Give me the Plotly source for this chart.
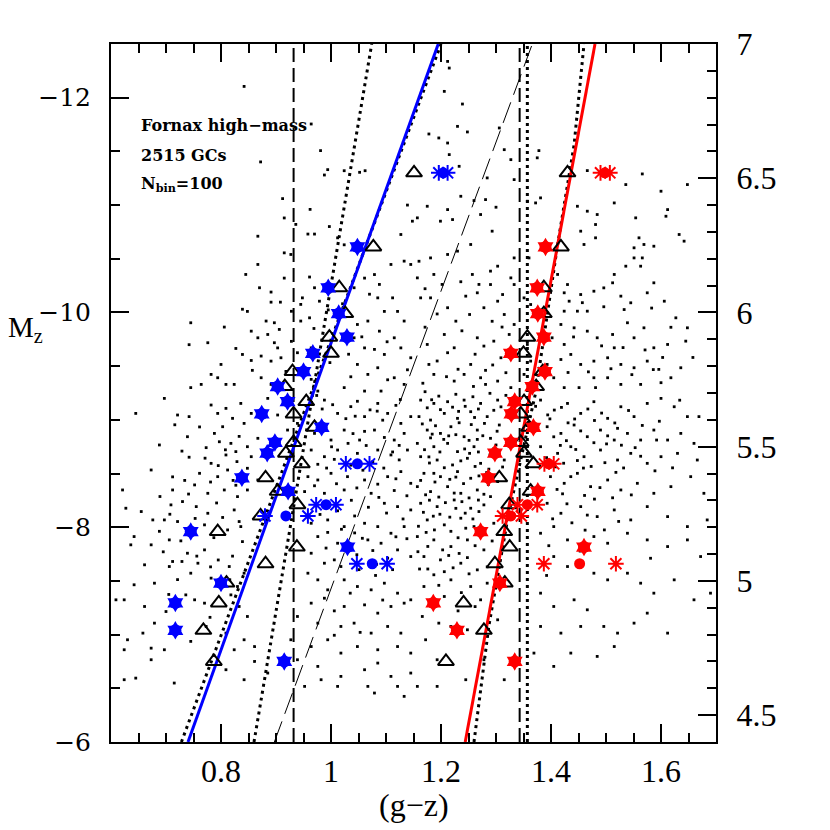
import plotly.graph_objects as go

# ---------------- data ----------------
# individual GCs (g-z, M_z)
gc_points = [
 (0.842,-12.105),(0.964,-11.755),(0.981,-11.507),(0.872,-11.402),(0.994,-11.33),(0.988,-11.28),(1.024,-11.32),
 (1.052,-11.305),(1.062,-11.32),(0.912,-11.06),(0.962,-10.96),(0.915,-10.88),(0.936,-10.82),(0.958,-10.73),
 (0.970,-10.73),(0.997,-10.80),(0.867,-10.71),(0.915,-10.555),(0.927,-10.54),(1.012,-10.695),(1.024,-10.63),
 (0.867,-10.447),(0.845,-10.354),(0.870,-10.23),(0.891,-10.19),(0.915,-10.32),(0.961,-10.33),(0.970,-10.23),
 (0.891,-10.096),(0.908,-10.096),(0.948,-10.136),(0.945,-10.075),(0.979,-10.105),(0.839,-10.03),(0.848,-10.01),
 (0.806,-9.864),(0.745,-9.904),(0.882,-9.92),(0.897,-9.904),(0.906,-9.842),(0.945,-9.92),(0.961,-9.95),
 (0.855,-9.826),(0.867,-9.764),(0.885,-9.795),(0.897,-9.718),(0.903,-9.67),(0.742,-9.70),(0.776,-9.718),
 (0.827,-9.665),(0.839,-9.609),(0.855,-9.553),(0.873,-9.594),(0.891,-9.547),(0.909,-9.578),(0.939,-9.625),
 (0.964,-9.67),(0.800,-9.516),(0.782,-9.423),(0.794,-9.392),(0.809,-9.33),(0.745,-9.30),(0.764,-9.33),
 (0.824,-9.33),(0.873,-9.392),(0.891,-9.33),(0.964,-9.377),(0.976,-9.268),
 (1.042,-10.23),(1.061,-10.32),(1.070,-10.17),(1.079,-10.353),(1.085,-10.136),(1.112,-10.136),(1.097,-10.01),
 (1.121,-10.01),(1.133,-9.92),(1.067,-9.92),(1.048,-9.888),(1.088,-9.826),(1.115,-9.764),(1.042,-9.764),
 (1.061,-9.67),(1.079,-9.656),(1.097,-9.609),(1.127,-9.67),(1.145,-9.578),(1.048,-9.516),(1.067,-9.423),
 (1.085,-9.485),(1.115,-9.392),(1.133,-9.33),(1.061,-9.268),(1.024,-9.30),(1.091,-9.268),(1.133,-10.478),
 (1.145,-10.447),(1.109,-10.447),(1.139,-11.0),(1.127,-10.726),(1.148,-10.85),
 (1.212,-12.338),(1.215,-12.276),(1.206,-12.059),(1.239,-11.941),(1.230,-11.733),(1.248,-11.681),(1.178,-11.662),
 (1.196,-11.625),(1.212,-11.578),(1.215,-11.47),(1.306,-11.718),(1.315,-11.516),(1.327,-11.423),(1.333,-11.237),
 (1.233,-11.361),(1.284,-11.253),(1.378,-11.507),(1.375,-11.44),(1.381,-11.067),(1.372,-11.02),(1.357,-11.036),
 (1.175,-10.989),(1.157,-10.881),(1.212,-10.958),(1.236,-11.082),(1.260,-11.042),(1.281,-11.051),(1.300,-10.98),
 (1.272,-10.912),(1.199,-10.85),(1.221,-10.865),(1.293,-10.757),(1.254,-10.633),(1.230,-10.571),(1.212,-10.54),
 (1.187,-10.354),(1.181,-10.508),(1.257,-10.354),(1.290,-10.385),(1.303,-10.431),(1.333,-10.508),(1.327,-10.322),
 (1.333,-10.26),(1.160,-10.477),(1.157,-10.322),(1.163,-10.136),(1.181,-10.136),(1.212,-10.044),(1.227,-9.919),
 (1.245,-10.152),(1.266,-10.183),(1.278,-10.044),(1.303,-10.105),(1.312,-10.167),(1.290,-10.26),(1.315,-9.981),
 (1.333,-9.888),(1.324,-9.795),(1.266,-9.764),(1.278,-9.687),(1.296,-9.733),(1.224,-9.671),(1.212,-9.625),
 (1.175,-9.702),(1.178,-9.516),(1.187,-9.423),(1.224,-9.361),(1.242,-9.423),(1.272,-9.392),(1.303,-9.361),
 (1.281,-9.33),(1.318,-9.439),(1.327,-9.30),(1.309,-9.578),(1.254,-9.516),(1.206,-9.795),
 (1.466,-11.321),(1.536,-11.191),(1.566,-11.29),(1.600,-11.129),(1.648,-11.191),(1.448,-10.989),(1.466,-10.943),
 (1.484,-10.912),(1.515,-11.02),(1.481,-10.819),(1.481,-10.695),(1.454,-10.757),(1.460,-10.633),(1.554,-10.881),
 (1.612,-10.958),(1.609,-10.896),(1.633,-10.726),(1.642,-10.664),(1.560,-10.695),(1.569,-10.633),(1.587,-10.617),
 (1.551,-10.602),(1.566,-10.508),(1.551,-10.508),(1.536,-10.431),(1.563,-10.431),(1.515,-10.354),(1.512,-10.276),
 (1.496,-10.229),(1.478,-10.198),(1.454,-10.167),(1.424,-10.183),(1.433,-10.105),(1.448,-10.012),(1.466,-10.012),
 (1.412,-10.354),(1.430,-10.26),(1.527,-10.152),(1.545,-10.09),(1.575,-10.183),(1.606,-10.105),(1.627,-9.95),
 (1.587,-10.276),(1.418,-9.888),(1.442,-9.857),(1.466,-9.826),(1.484,-9.764),(1.512,-9.795),(1.539,-9.904),
 (1.551,-9.764),(1.569,-9.857),(1.587,-9.671),(1.612,-9.702),(1.645,-9.733),(1.648,-9.857),(1.424,-9.702),
 (1.436,-9.609),(1.454,-9.516),(1.478,-9.547),(1.503,-9.578),(1.515,-9.671),(1.527,-9.516),(1.551,-9.485),
 (1.575,-9.547),(1.596,-9.47),(1.618,-9.392),(1.636,-9.485),(1.478,-9.392),(1.503,-9.392),(1.527,-9.33),
 (1.563,-9.33),(1.600,-9.346),(1.405,-9.392),(1.424,-9.30),(1.451,-9.30),(1.481,-9.30),(1.424,-10.012),
 (1.402,-9.764),(1.418,-9.562),(1.393,-9.516),(1.357,-9.702),(1.363,-9.547),(1.351,-9.423),(1.360,-10.508),
 (1.363,-10.074),(1.375,-9.981),(1.351,-10.136),
 (0.697,-9.2),(0.645,-9.06),(0.721,-9.045),(0.742,-9.03),(0.782,-9.138),(0.794,-9.06),(0.809,-9.107),
 (0.821,-9.014),(0.836,-9.153),(0.842,-8.967),(0.855,-9.06),(0.803,-8.936),(0.788,-8.874),(0.739,-8.843),
 (0.688,-8.766),(0.818,-8.781),(0.827,-8.704),(0.848,-8.75),(0.867,-8.828),(0.855,-8.657),(0.809,-8.673),
 (0.782,-8.595),(0.761,-8.502),(0.794,-8.471),(0.812,-8.533),(0.848,-8.549),(0.867,-8.44),(0.673,-8.533),
 (0.712,-8.347),(0.752,-8.394),(0.776,-8.316),(0.806,-8.347),(0.830,-8.285),(0.848,-8.347),(0.621,-8.347),
 (0.655,-8.146),(0.627,-8.177),(0.709,-8.208),(0.730,-8.239),(0.755,-8.192),(0.776,-8.13),(0.824,-8.161),
 (0.676,-8.068),(0.697,-8.068),(0.721,-8.053),(0.642,-7.913),(0.636,-7.836),(0.673,-7.836),(0.706,-7.882),
 (0.770,-8.022),(0.812,-7.975),(0.836,-8.006),(0.839,-7.866),(0.770,-7.789),(0.739,-7.758),(0.712,-7.681),
 (0.661,-7.65),(0.706,-7.634),(0.758,-7.665),(0.782,-7.526),(0.745,-7.572),(0.815,-7.634),(0.830,-7.448),
 (0.842,-7.572),(0.642,-7.464),(0.679,-7.479),(0.624,-7.324),(0.609,-7.324),(0.661,-7.262),(0.700,-7.215),
 (0.736,-7.37),(0.752,-7.324),(0.770,-7.293),(0.818,-7.37),(0.833,-7.262),(0.848,-7.169),(0.679,-7.107),
 (0.658,-7.014),(0.630,-6.952),(0.624,-6.859),(0.673,-6.874),(0.697,-6.859),(0.745,-6.937),(0.773,-7.076),
 (0.809,-7.014),(0.824,-6.859),(0.842,-6.952),(0.861,-6.889),(0.673,-6.766),(0.715,-6.549),(0.645,-6.595),
 (0.624,-6.58),(0.809,-6.673),(0.842,-6.58),(0.861,-6.75),(0.885,-6.642),
 (0.885,-9.2),(0.903,-9.045),(0.921,-8.905),(0.939,-8.967),(0.988,-9.184),(1.012,-9.06),(1.036,-9.123),
 (1.061,-9.03),(1.085,-9.153),(1.103,-9.06),(1.127,-8.967),(1.145,-9.03),(0.970,-8.874),(1.000,-8.812),
 (1.024,-8.905),(1.052,-8.812),(1.079,-8.905),(1.115,-8.812),(1.133,-8.874),(0.964,-8.719),(0.988,-8.657),
 (1.012,-8.719),(1.048,-8.688),(1.085,-8.719),(1.109,-8.673),(1.139,-8.719),(0.958,-8.471),(0.976,-8.44),
 (1.000,-8.502),(1.030,-8.471),(1.061,-8.44),(1.103,-8.471),(1.127,-8.518),(1.145,-8.409),(0.952,-8.332),
 (0.988,-8.316),(1.024,-8.347),(1.073,-8.316),(1.097,-8.223),(1.121,-8.192),(1.145,-8.161),(0.964,-8.037),
 (0.994,-8.068),(1.024,-8.006),(1.061,-8.037),(1.085,-8.006),(1.109,-7.944),(1.133,-8.006),(0.976,-7.913),
 (1.012,-7.851),(1.067,-7.882),(1.091,-7.851),(1.121,-7.789),(1.145,-7.727),(0.964,-7.758),(0.988,-7.665),
 (1.006,-7.696),(1.018,-7.634),(0.958,-7.572),(0.976,-7.51),(0.994,-7.417),(1.024,-7.51),(1.048,-7.448),
 (1.073,-7.417),(1.097,-7.479),(1.121,-7.386),(1.133,-7.293),(1.145,-7.324),(0.964,-7.293),(0.988,-7.339),
 (1.024,-7.262),(1.061,-7.277),(1.085,-7.2),(1.109,-7.262),(0.939,-7.169),(0.976,-7.107),(1.018,-7.076),
 (1.042,-7.107),(1.073,-7.014),(1.103,-7.076),(1.127,-7.014),(0.927,-6.952),(0.964,-6.889),(0.994,-6.952),
 (1.018,-6.828),(1.048,-6.889),(1.085,-6.859),(1.121,-6.889),(1.145,-6.828),(0.939,-6.766),(0.976,-6.704),
 (1.018,-6.611),(1.061,-6.673),(1.085,-6.735),(1.109,-6.611),(1.145,-6.642),(0.982,-6.58),(1.012,-6.518),
 (1.067,-6.518),(1.079,-6.456),(1.121,-6.518),(1.133,-6.425),(0.952,-6.518),
 (1.163,-9.184),(1.187,-9.153),(1.212,-9.169),(1.242,-9.184),(1.272,-9.153),(1.303,-9.184),(1.160,-9.03),
 (1.181,-8.998),(1.206,-9.06),(1.230,-9.014),(1.254,-9.076),(1.284,-9.03),(1.306,-8.952),(1.175,-8.905),
 (1.199,-8.874),(1.218,-8.936),(1.242,-8.843),(1.266,-8.905),(1.290,-8.828),(1.157,-8.781),(1.187,-8.75),
 (1.212,-8.781),(1.230,-8.704),(1.260,-8.75),(1.163,-8.657),(1.193,-8.626),(1.221,-8.58),(1.248,-8.642),
 (1.272,-8.595),(1.315,-8.626),(1.169,-8.502),(1.199,-8.471),(1.230,-8.518),(1.254,-8.456),(1.303,-8.425),
 (1.157,-8.378),(1.181,-8.332),(1.212,-8.378),(1.236,-8.316),(1.266,-8.347),(1.290,-8.285),(1.163,-8.223),
 (1.193,-8.192),(1.224,-8.254),(1.254,-8.177),(1.278,-8.208),(1.175,-8.068),(1.206,-8.022),(1.236,-8.084),
 (1.260,-8.006),(1.296,-8.037),(1.157,-7.913),(1.187,-7.882),(1.218,-7.82),(1.248,-7.882),(1.278,-7.789),
 (1.169,-7.727),(1.199,-7.696),(1.236,-7.665),(1.266,-7.603),(1.187,-7.557),(1.218,-7.51),(1.254,-7.448),
 (1.284,-7.479),(1.169,-7.448),(1.206,-7.355),(1.272,-7.324),(1.166,-7.169),(1.196,-7.107),(1.218,-7.076),
 (1.248,-7.045),(1.303,-7.138),(1.172,-6.952),(1.193,-6.766),(1.157,-6.518),(1.193,-6.518),(1.245,-6.58),
 (1.278,-6.766),(1.315,-6.58),
 (1.381,-9.184),(1.406,-9.091),(1.430,-9.153),(1.454,-9.06),(1.478,-9.169),(1.503,-9.014),(1.527,-9.122),
 (1.551,-9.03),(1.575,-9.153),(1.600,-9.2),(1.624,-9.122),(1.648,-9.03),(1.669,-9.03),(1.393,-8.936),
 (1.418,-8.874),(1.442,-8.952),(1.466,-8.843),(1.490,-8.905),(1.515,-8.812),(1.539,-8.874),(1.563,-8.812),
 (1.587,-8.905),(1.612,-8.812),(1.636,-8.874),(1.660,-8.781),(1.381,-8.75),(1.412,-8.688),(1.436,-8.75),
 (1.460,-8.657),(1.490,-8.719),(1.521,-8.626),(1.545,-8.688),(1.575,-8.595),(1.600,-8.657),(1.630,-8.688),
 (1.666,-8.626),(1.399,-8.471),(1.424,-8.409),(1.448,-8.502),(1.472,-8.378),(1.503,-8.44),(1.527,-8.347),
 (1.557,-8.409),(1.587,-8.316),(1.618,-8.378),(1.654,-8.471),(1.678,-8.316),(1.393,-8.223),(1.418,-8.13),
 (1.454,-8.192),(1.484,-8.099),(1.515,-8.161),(1.545,-8.068),(1.575,-8.192),(1.612,-8.099),(1.648,-8.006),
 (1.684,-8.068),(1.381,-7.944),(1.405,-8.006),(1.430,-7.882),(1.478,-7.913),(1.503,-7.851),(1.539,-7.944),
 (1.575,-7.882),(1.612,-7.82),(1.648,-7.882),(1.672,-7.727),(1.405,-7.727),(1.430,-7.634),(1.478,-7.572),
 (1.503,-7.51),(1.539,-7.572),(1.563,-7.479),(1.587,-7.386),(1.624,-7.51),(1.660,-7.324),(1.690,-7.386),
 (1.381,-7.386),(1.405,-7.262),(1.442,-7.324),(1.466,-7.231),(1.496,-7.076),(1.521,-7.014),(1.551,-7.107),
 (1.575,-7.2),(1.612,-7.014),(1.381,-7.076),(1.418,-7.014),(1.454,-7.076),(1.484,-6.797),(1.515,-6.889),
 (1.405,-6.704),(1.436,-6.828),(1.369,-6.828),
 (1.171,-9.262),(1.196,-9.221),(1.227,-9.238),(1.258,-9.215),(1.289,-9.247),(1.318,-9.228),(1.175,-9.112),
 (1.199,-9.095),(1.221,-9.118),(1.244,-9.126),(1.268,-9.101),(1.296,-9.089),(1.166,-8.962),(1.190,-8.945),
 (1.233,-8.973),(1.255,-8.956),(1.279,-8.967),(1.302,-8.894),(1.181,-8.832),(1.205,-8.818),(1.227,-8.862),
 (1.251,-8.809),(1.276,-8.852),(1.300,-8.766),(1.170,-8.722),(1.198,-8.701),(1.243,-8.729),(1.268,-8.701),
 (1.289,-8.672),(1.179,-8.598),(1.206,-8.554),(1.236,-8.618),(1.262,-8.566),(1.287,-8.541),(1.163,-8.436),
 (1.189,-8.421),(1.216,-8.446),(1.241,-8.406),(1.269,-8.478),(1.286,-8.398),(1.172,-8.302),(1.196,-8.281),
 (1.224,-8.318),(1.251,-8.273),(1.278,-8.307),(1.168,-8.139),(1.198,-8.121),(1.227,-8.176),(1.244,-8.131),
 (1.269,-8.146),(1.159,-8.009),(1.188,-7.975),(1.218,-7.962),(1.245,-7.991),(1.278,-7.946),(1.176,-7.821),
 (1.203,-7.789),(1.233,-7.756),(1.262,-7.828),(1.161,-7.611),(1.222,-7.622),(1.251,-7.566),(1.196,-7.459),
 (1.237,-7.391),(1.181,-7.285),(1.231,-7.221),(1.262,-7.261),
 (1.372,-9.126),(1.394,-9.046),(1.419,-9.116),(1.443,-9.008),(1.467,-9.101),(1.492,-9.063),(1.516,-8.971),
 (1.541,-9.087),(1.566,-8.948),(1.405,-8.842),(1.428,-8.806),(1.454,-8.897),(1.478,-8.787),(1.503,-8.851),
 (1.528,-8.764),(1.553,-8.741),(1.392,-8.648),(1.423,-8.596),(1.448,-8.621),(1.473,-8.566),(1.498,-8.601),
 (1.532,-8.552),(1.411,-8.352),(1.436,-8.471),(1.461,-8.296),(1.489,-8.369),(1.512,-8.274),(1.403,-8.078),
 (1.438,-8.041),(1.466,-8.113),(1.497,-7.975),(1.523,-8.054),(1.589,-8.525),(1.621,-8.553),(1.597,-8.987),
 (1.634,-9.183),(1.581,-7.711),(1.453,-7.778),(1.519,-7.654),(1.392,-7.551),
 (0.974,-9.227),(1.003,-9.141),(1.027,-9.011),(1.048,-9.173),(1.071,-9.093),(1.094,-8.997),(1.118,-9.135),
 (0.983,-8.951),(1.040,-8.872),(1.064,-8.761),(1.097,-8.836),(1.124,-8.762),(0.976,-8.586),(1.006,-8.632),
 (1.036,-8.578),(1.076,-8.611),(1.096,-8.551),(1.124,-8.627),(0.970,-8.386),(1.010,-8.405),(1.047,-8.366),
 (1.085,-8.401),(1.115,-8.342),(1.138,-8.293),(0.980,-8.119),(1.012,-8.153),(1.043,-8.105),(1.068,-8.186),
 (1.101,-8.132),(1.131,-8.077),(0.994,-7.952),(1.043,-7.947),(1.076,-7.783),(1.103,-7.712),(1.138,-7.893),
 (1.051,-7.605),(1.081,-7.551),(1.112,-7.605),(1.006,-7.221),(1.035,-7.386),(1.094,-7.322),(1.006,-6.994),
 (1.053,-7.021),
 (0.716,-8.954),(0.761,-8.934),(0.773,-8.741),(0.797,-8.796),(0.833,-8.846),(0.742,-8.652),(0.795,-8.574),
 (0.829,-8.611),(0.734,-8.436),(0.822,-8.436),(0.689,-8.286),(0.741,-8.309),(0.792,-8.226),(0.833,-8.053),
 (0.753,-8.082),(0.688,-7.962),(0.727,-7.873),(0.787,-7.903),(0.695,-7.771),(0.756,-7.731),(0.795,-7.695),
 (0.721,-7.512),(0.816,-7.511),(0.705,-7.374),(0.780,-7.161),
 (1.171,-10.221),(1.202,-10.261),(1.236,-10.286),(1.269,-10.261),(1.193,-9.986),(1.252,-9.981),(1.293,-9.918),
 (1.171,-9.863),(1.238,-9.829),(1.311,-9.864),(1.193,-9.548),(1.231,-9.471),(1.262,-9.611),(1.294,-9.511),
 (1.167,-9.341),(1.259,-9.311),(1.210,-9.402),(1.281,-9.461),
 (1.431,-9.441),(1.468,-9.447),(1.509,-9.476),(1.547,-9.421),(1.586,-9.468),(1.441,-9.772),(1.492,-9.689),
 (1.531,-9.673),(1.571,-9.651),(1.603,-9.581),(1.457,-10.091),(1.496,-10.053),(1.533,-10.027),(1.583,-10.041),
 (1.618,-9.862),(1.658,-9.581),
 (0.928,-10.011),(0.969,-9.851),(0.998,-9.533),(1.032,-9.611),(1.036,-9.401),(1.056,-9.773),(1.102,-9.727),
 (1.103,-9.373),(1.139,-9.466),(0.918,-9.451),(0.955,-9.461),(0.857,-9.461),(0.928,-9.731),(0.995,-10.024),
 (1.021,-10.081),(1.088,-10.261),
 (1.183,-9.187),(1.232,-9.079),(1.261,-9.022),(1.309,-9.121),(1.184,-8.867),(1.214,-8.851),(1.266,-8.818),
 (1.296,-8.732),(1.178,-8.655),(1.252,-8.688),(1.312,-8.561),(1.187,-8.502),(1.227,-8.467),(1.283,-8.509),
 (1.179,-8.252),(1.208,-8.229),(1.238,-8.238),(1.268,-8.253),(1.186,-8.103),(1.216,-8.094),(1.258,-8.077),
 (1.173,-7.952),(1.231,-7.902),(1.293,-7.872),(1.158,-7.772),(1.214,-7.737),(1.248,-7.717),(1.176,-7.611),
 (1.206,-7.586),(1.284,-7.631),
 (1.398,-9.009),(1.431,-8.972),(1.479,-8.994),(1.521,-8.921),(1.417,-8.762),(1.445,-8.724),(1.501,-8.776),
 (1.408,-8.562),(1.459,-8.551),(1.518,-8.511),(1.421,-8.311),(1.479,-8.262),(1.429,-8.218),(1.396,-7.828),
 (1.462,-7.973),(1.546,-8.301),(1.563,-8.661),(1.592,-8.812),
 (0.984,-9.101),(1.044,-9.034),(1.084,-9.081),(1.126,-9.189),(1.001,-8.749),(1.031,-8.781),(1.061,-8.893),
 (1.112,-8.701),(0.992,-8.551),(1.058,-8.531),(1.118,-8.451),(0.994,-8.221),(1.037,-8.251),(1.087,-8.278),
 (1.019,-7.981),(1.057,-7.897),(1.118,-7.911),(0.991,-7.806),(1.047,-7.744),(1.083,-7.655),
 (0.729,-8.709),(0.771,-8.643),(0.808,-8.721),(0.712,-8.469),(0.781,-8.421),(0.827,-8.391),(0.707,-8.121),
 (0.744,-8.006),(0.803,-8.091),(0.729,-7.681),(0.781,-7.631),(0.821,-7.731),
]
gc_colour = [p[0] for p in gc_points]
gc_mag = [p[1] for p in gc_points]

# magnitude bins
bin_mag = [-11.30, -10.61, -10.23, -9.99, -9.77, -9.62, -9.45, -9.31, -9.17, -9.055, -8.93, -8.79, -8.69,
           -8.59, -8.46, -8.335, -8.21, -8.105, -7.96, -7.815, -7.66, -7.48, -7.295, -7.04, -6.75]
# blue / red peak colours
blue_peak = [1.204, 1.048, 0.995, 1.014, 1.029, 0.967, 0.950, 0.903, 0.921, 0.874, 0.983, 0.898, 0.884,
             1.048, 0.838, 0.922, 0.991, 0.918, 0.745, 1.030, 1.075, 0.800, 0.717, 0.717, 0.915]
red_peak = [1.498, 1.390, 1.375, 1.376, 1.387, 1.327, 1.389, 1.366, 1.334, 1.328, 1.368, 1.327, 1.298,
            1.396, 1.286, 1.376, 1.357, 1.327, 1.272, 1.460, 1.452, 1.307, 1.186, 1.229, 1.334]
# bins drawn as circle + asterisk range
uncertain = [True, False, False, False, False, False, False, False, False, False, False, False, False,
             True, False, False, True, True, False, False, True, False, False, False, False]
blue_lo = [1.196, None, None, None, None, None, None, None, None, None, None, None, None,
           1.027, None, None, 0.973, 0.880, None, None, 1.047, None, None, None, None]
blue_hi = [1.212, None, None, None, None, None, None, None, None, None, None, None, None,
           1.070, None, None, 1.009, 0.958, None, None, 1.102, None, None, None, None]
red_lo = [1.490, None, None, None, None, None, None, None, None, None, None, None, None,
          1.388, None, None, 1.339, 1.312, None, None, 1.387, None, None, None, None]
red_hi = [1.507, None, None, None, None, None, None, None, None, None, None, None, None,
          1.405, None, None, 1.375, 1.346, None, None, 1.518, None, None, None, None]
# alternative (triangle) peak estimates
tri_blue = [1.151, 1.077, 1.015, 1.026, 0.997, 1.000, 0.930, 0.916, 0.955, 0.932, 0.970, 0.932, 0.918,
            0.947, 0.881, 0.903, 0.939, 0.872, 0.794, 0.938, 0.881, 0.810, 0.796, 0.768, 0.787]
tri_red = [1.430, 1.418, 1.387, 1.387, 1.357, 1.350, 1.385, 1.373, 1.351, 1.345, 1.360, 1.345, 1.351,
           1.368, 1.306, 1.363, 1.324, None, 1.315, 1.325, 1.298, 1.316, 1.241, 1.278, 1.209]

# fitted relations: colour at the given magnitudes
line_mag = [-6.0, -12.5]
blue_fit = [0.740, 1.195]
blue_dot = [0.728, 1.200]
mid_dot = [0.860, 1.074]
thin_dash = [0.897, 1.366]
red_fit = [1.244, 1.480]
red_dot_mag = [-6.0, -7.08, -8.1, -9.25, -10.63, -11.56, -12.5]
red_dot = [1.260, 1.287, 1.322, 1.372, 1.412, 1.442, 1.460]
vline_blue = 0.932
vline_red = 1.343
vline_red_dot = 1.357

x_ticks = [0.8, 1.0, 1.2, 1.4, 1.6]
x_ticktext = ["0.8", "1", "1.2", "1.4", "1.6"]
y_ticks = [-12, -10, -8, -6]
y_ticktext = ["\u221212", "\u221210", "\u22128", "\u22126"]
mass_ticks = [4.5, 5, 5.5, 6, 6.5, 7]
mass_ticktext = ["4.5", "5", "5.5", "6", "6.5", "7"]

BLUE = "#0000ff"
RED = "#ff0000"

fig = go.Figure()

fig.add_trace(go.Scatter(x=gc_colour, y=gc_mag, mode="markers",
                         marker=dict(symbol="square", size=2.8, color="black", line=dict(width=0)),
                         hoverinfo="skip", showlegend=False))

def add_line(xs, ys, color, width, dash):
    fig.add_trace(go.Scatter(x=xs, y=ys, mode="lines", line=dict(color=color, width=width, dash=dash),
                             hoverinfo="skip", showlegend=False))

add_line([vline_blue, vline_blue], line_mag, "black", 2, "14px,6px")
add_line([vline_red, vline_red], line_mag, "black", 2, "14px,6px")
add_line([vline_red_dot, vline_red_dot], line_mag, "black", 3, "3px,4px")
add_line(thin_dash, line_mag, "black", 1, "22px,8px")
add_line(mid_dot, line_mag, "black", 3, "3px,4px")
add_line(blue_dot, line_mag, "black", 3, "3px,4px")
add_line(red_dot, red_dot_mag, "black", 3, "3px,4px")
add_line(blue_fit, line_mag, BLUE, 3, "solid")
add_line(red_fit, line_mag, RED, 3, "solid")

# triangles
fig.add_trace(go.Scatter(x=tri_blue + tri_red, y=bin_mag + bin_mag, mode="markers",
                         marker=dict(symbol="triangle-up-open", size=14, color="black", line=dict(width=2)),
                         showlegend=False))

for peak, lo, hi, col in [(blue_peak, blue_lo, blue_hi, BLUE), (red_peak, red_lo, red_hi, RED)]:
    hx = [p for p, u in zip(peak, uncertain) if not u]
    hy = [m for m, u in zip(bin_mag, uncertain) if not u]
    fig.add_trace(go.Scatter(x=hx, y=hy, mode="markers",
                             marker=dict(symbol="circle", size=12, color=col, line=dict(width=0)),
                             showlegend=False))
    fig.add_trace(go.Scatter(x=hx, y=hy, mode="markers",
                             marker=dict(symbol="hexagram", size=14, color=col, line=dict(width=0)),
                             showlegend=False))
    cx = [p for p, u in zip(peak, uncertain) if u]
    cy = [m for m, u in zip(bin_mag, uncertain) if u]
    fig.add_trace(go.Scatter(x=cx, y=cy, mode="markers",
                             marker=dict(symbol="circle", size=11, color=col, line=dict(width=0)),
                             showlegend=False))
    ax = [v for v in lo + hi if v is not None]
    ay = [m for v, m in zip(lo + hi, bin_mag + bin_mag) if v is not None]
    fig.add_trace(go.Scatter(x=ax, y=ay, mode="markers",
                             marker=dict(symbol="asterisk-open", size=13, color=col, line=dict(width=2, color=col)),
                             showlegend=False))

# invisible trace to activate the right axis
fig.add_trace(go.Scatter(x=[None], y=[None], yaxis="y2", showlegend=False))

SERIF = "Liberation Serif"
fig.update_layout(
    width=830, height=830,
    margin=dict(l=103, r=122, t=36, b=96),
    paper_bgcolor="white", plot_bgcolor="white",
    xaxis=dict(range=[0.6, 1.7], tickvals=x_ticks, ticktext=x_ticktext, ticks="inside", ticklen=18,
               tickwidth=2, tickcolor="black", showline=True, linecolor="black", linewidth=2,
               mirror="ticks", showgrid=False, zeroline=False, automargin=False,
               tickfont=dict(family=SERIF, size=32, color="black"),
               minor=dict(dtick=0.05, tick0=0.6, ticks="inside", ticklen=9, tickwidth=2, tickcolor="black",
                          showgrid=False)),
    yaxis=dict(range=[-6, -12.5], tickvals=y_ticks, ticktext=y_ticktext, ticks="inside", ticklen=18,
               tickwidth=2, tickcolor="black", showline=True, linecolor="black", linewidth=2,
               showgrid=False, zeroline=False, automargin=False, ticklabelstandoff=13,
               tickfont=dict(family="DejaVu Serif", size=25, color="black"),
               minor=dict(dtick=0.5, tick0=-6, ticks="inside", ticklen=9, tickwidth=2, tickcolor="black",
                          showgrid=False)),
    yaxis2=dict(range=[4.4, 7.0], overlaying="y", side="right", anchor="x", tickvals=mass_ticks,
                ticktext=mass_ticktext, ticks="inside", ticklen=18, tickwidth=2, tickcolor="black",
                showline=True, linecolor="black", linewidth=2, showgrid=False, zeroline=False,
                automargin=False, ticklabelstandoff=12,
                tickfont=dict(family=SERIF, size=32, color="black"),
                minor=dict(dtick=0.1, tick0=4.4, ticks="inside", ticklen=9, tickwidth=2, tickcolor="black",
                           showgrid=False)),
    annotations=[
        dict(x=0.651, y=-11.74, xref="x", yref="y", text="<b>Fornax high\u2212mass</b>", showarrow=False,
             xanchor="left", yanchor="middle", font=dict(family="DejaVu Serif", size=16, color="black")),
        dict(x=0.651, y=-11.46, xref="x", yref="y", text="<b>2515 GCs</b>", showarrow=False,
             xanchor="left", yanchor="middle", font=dict(family="DejaVu Serif", size=16, color="black")),
        dict(x=0.651, y=-11.19, xref="x", yref="y", text="<b>N<sub>bin</sub>=100</b>", showarrow=False,
             xanchor="left", yanchor="middle", font=dict(family="DejaVu Serif", size=16, color="black")),
        dict(x=-0.141, y=-9.85, xref="paper", yref="y", text="M<sub>z</sub>", showarrow=False,
             xanchor="center", yanchor="middle", font=dict(family=SERIF, size=29, color="black")),
        dict(x=1.15, y=-0.09, xref="x", yref="paper", text="(g\u2212z)", showarrow=False,
             xanchor="center", yanchor="middle", font=dict(family=SERIF, size=32, color="black")),
    ],
)

fig.write_html("out.html")
